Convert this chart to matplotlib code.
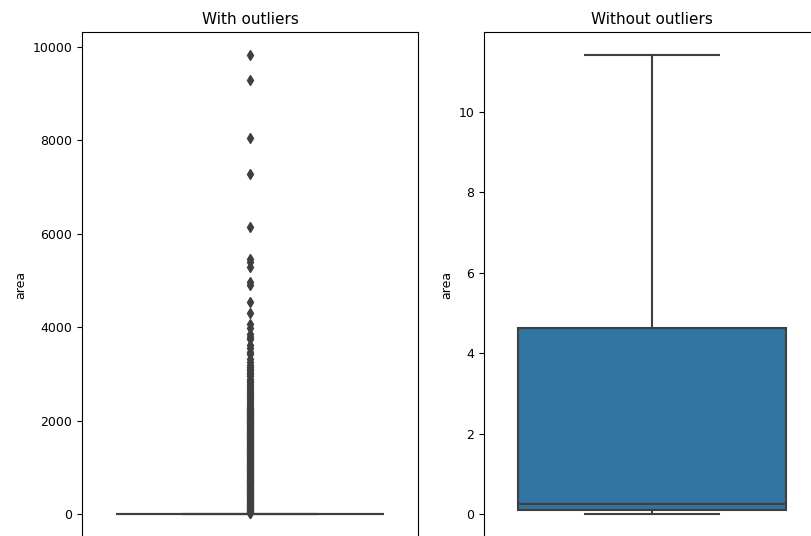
import matplotlib
matplotlib.use("Agg")
import matplotlib.pyplot as plt

# box stats (area)
with_q1, with_med, with_q3 = 0.0, 0.5, 6.5
with_whislo, with_whishi = 0.0, 12.0
# outliers (dense column below ~3200)
with_fliers = [9829, 9300, 8050, 7290, 6140, 5470, 5390, 5280, 4960, 4910,
               4550, 4300, 4060, 3980, 3860, 3790, 3740, 3620, 3560, 3480,
               3420, 3330, 3250, 3190, 3150, 3110, 3070, 3030, 2990, 2950,
               2900, 2860, 2820, 2780, 2740, 2700, 2660, 2620, 2580, 2540,
               2500, 2460, 2420, 2380, 2340, 2300, 2280, 2260, 2240, 2220,
               2200, 2180, 2160, 2140, 2120, 2100, 2080, 2060, 2040, 2020,
               2000, 1980, 1960, 1940, 1920, 1900, 1880, 1860, 1840, 1820,
               1800, 1780, 1760, 1740, 1720, 1700, 1680, 1660, 1640, 1620,
               1600, 1580, 1560, 1540, 1520, 1500, 1480, 1460, 1440, 1420,
               1400, 1380, 1360, 1340, 1320, 1300, 1280, 1260, 1240, 1220,
               1200, 1180, 1160, 1140, 1120, 1100, 1080, 1060, 1040, 1020,
               1000, 980, 960, 940, 920, 900, 880, 860, 840, 820,
               800, 780, 760, 740, 720, 700, 680, 660, 640, 620,
               600, 580, 560, 540, 520, 500, 480, 460, 440, 420,
               400, 380, 360, 340, 320, 300, 280, 260, 240, 220,
               200, 180, 160, 140, 120, 100, 80, 60, 40, 25, 14]

without_q1, without_med, without_q3 = 0.09, 0.26, 4.63
without_whislo, without_whishi = 0.0, 11.42

box_color = "#3274a1"
line_gray = "#3f3f3f"

fig = plt.figure(figsize=(8.11, 5.36), dpi=100)
ax1 = fig.add_axes([82 / 811, -1 / 536, 336 / 811, 505 / 536])
ax2 = fig.add_axes([484 / 811, -1 / 536, 336 / 811, 505 / 536])

stats1 = [dict(med=with_med, q1=with_q1, q3=with_q3, whislo=with_whislo,
               whishi=with_whishi, fliers=with_fliers)]
stats2 = [dict(med=without_med, q1=without_q1, q3=without_q3,
               whislo=without_whislo, whishi=without_whishi, fliers=[])]

props = dict(
    widths=0.8, patch_artist=True,
    boxprops=dict(facecolor=box_color, edgecolor=line_gray, linewidth=1.5),
    medianprops=dict(color=line_gray, linewidth=1.5),
    whiskerprops=dict(color=line_gray, linewidth=1.5),
    capprops=dict(color=line_gray, linewidth=1.5),
    flierprops=dict(marker="d", markersize=5.5, markerfacecolor=line_gray,
                    markeredgecolor=line_gray, linestyle="none"),
)

ax1.bxp(stats1, positions=[0], showfliers=True, **props)
ax2.bxp(stats2, positions=[0], showfliers=False, **props)

ax1.set_ylim(-490, 10320)
ax2.set_ylim(-0.57, 11.99)

for ax, title in [(ax1, "With outliers"), (ax2, "Without outliers")]:
    ax.set_xlim(-0.5, 0.5)
    ax.set_xticks([])
    ax.set_title(title, fontsize=11)
    ax.set_ylabel("area", fontsize=9)
    ax.tick_params(labelsize=9)

fig.savefig("out.png", dpi=100)
